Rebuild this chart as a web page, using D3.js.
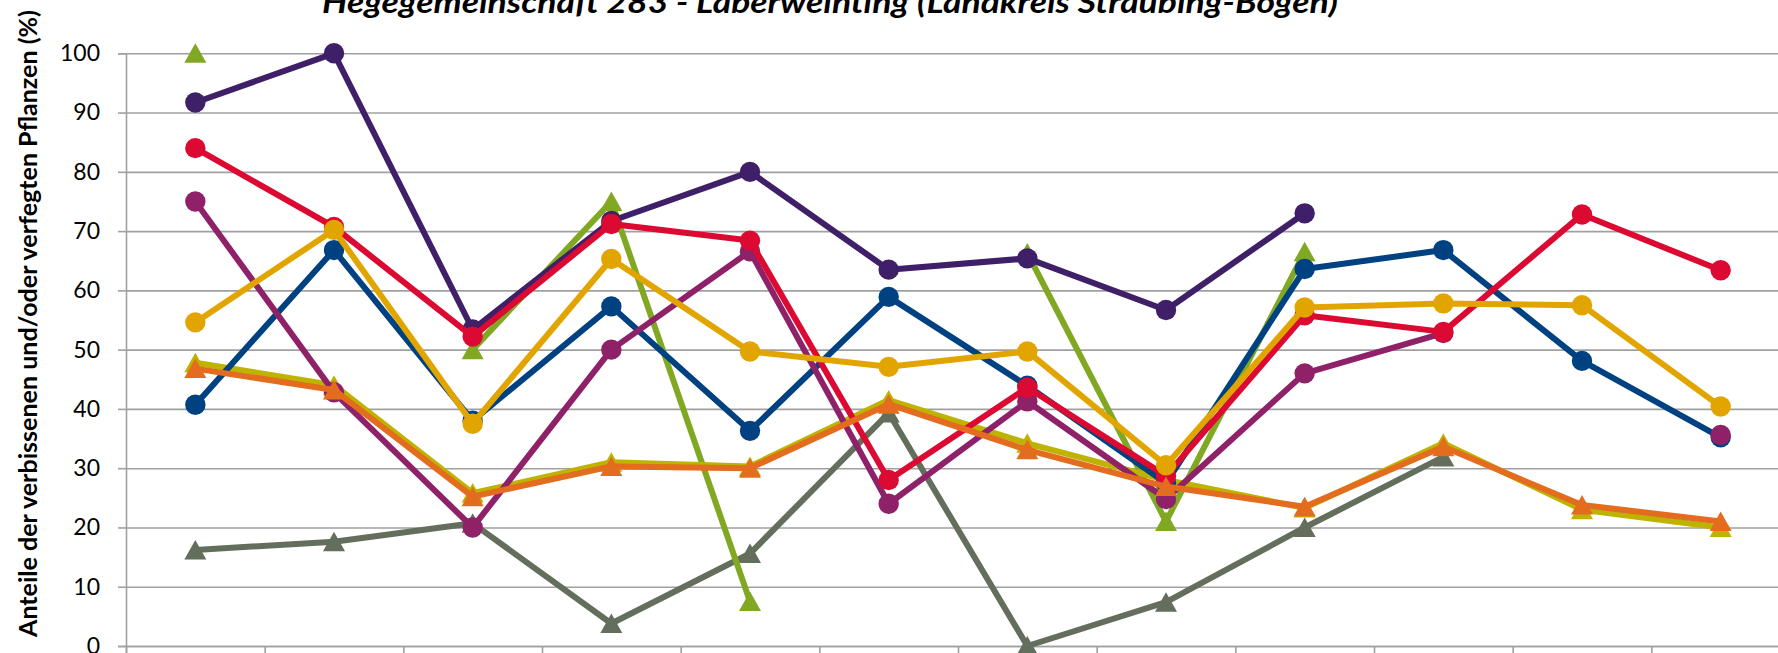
<!DOCTYPE html>
<html>
<head>
<meta charset="utf-8">
<script src="https://cdn.jsdelivr.net/npm/d3@7"></script>
<style>
  html, body { margin: 0; padding: 0; background: #fff; overflow: hidden; }
  svg { display: block; }
</style>
</head>
<body>
<svg id="chart" width="1778" height="653"></svg>
<script>
// ---- data ----
const categories = ["1991","1994","1997","2000","2003","2006","2009","2012","2015","2018","2021","2024"];
const yTicks = [0,10,20,30,40,50,60,70,80,90,100];
const titleText = "Hegegemeinschaft 283 - Laberweinting (Landkreis Straubing-Bogen)";
const yTitleText = "Anteile der verbissenen und/oder verfegten Pflanzen (%)";

const seriesGrey    = [16.2, 17.6, 20.7, 3.8, 15.6, 39.3, 0, 7.4, 20.0, 31.9, null, null];
const seriesGreen   = [100, null, 50, 75, 7.5, null, 66.3, 21, 66.5, null, null, null];
const seriesOlive   = [47.8, 44.0, 25.8, 31.0, 30.3, 41.5, 34.2, 28.0, 23.3, 34.2, 23.0, 20.0];
const seriesPurple  = [91.7, 100, 53.4, 71.7, 80.0, 63.5, 65.4, 56.7, 73.0, null, null, null];
const seriesBlue    = [40.7, 66.8, 38.0, 57.3, 36.3, 58.9, 43.9, 27.5, 63.6, 66.8, 48.1, 35.2];
const seriesMagenta = [75.0, 42.8, 20.0, 50.0, 66.6, 24.0, 41.3, 24.8, 46.0, 52.8, null, 35.6];
const seriesRed     = [84.0, 70.7, 52.2, 71.2, 68.4, 28.0, 43.6, 28.7, 55.8, 53.0, 72.8, 63.4];
const seriesOrange  = [46.8, 43.2, 25.2, 30.3, 30.0, 40.8, 33.1, 26.9, 23.5, 33.6, 23.8, 21.0];
const seriesGold    = [54.6, 70.2, 37.5, 65.3, 49.7, 47.1, 49.7, 30.5, 57.1, 57.8, 57.5, 40.4];

(function () {
// ---- styles (drawing order bottom -> top) ----
const series = [
  { values: seriesGrey,    color: "#646E5C", marker: "triangle" },
  { values: seriesGreen,   color: "#80A823", marker: "triangle" },
  { values: seriesOlive,   color: "#BDB300", marker: "triangle" },
  { values: seriesPurple,  color: "#3E1F68", marker: "circle" },
  { values: seriesBlue,    color: "#004182", marker: "circle" },
  { values: seriesMagenta, color: "#8E2168", marker: "circle" },
  { values: seriesRed,     color: "#DC0A32", marker: "circle" },
  { values: seriesOrange,  color: "#E36C1E", marker: "triangle" },
  { values: seriesGold,    color: "#E2A500", marker: "circle" }
];

const svg = d3.select("#chart");
const W = 1778, H = 653;
const pLeft = 126, pRight = 1790, pTop = 53.3, pBottom = 646;
const font = "Lato, 'Open Sans', 'Liberation Sans', sans-serif";

svg.append("rect").attr("width", W).attr("height", H).attr("fill", "#fff");

const x = d3.scalePoint().domain(categories).range([pLeft, pRight]).padding(0.5);
const xEdge = d3.scaleLinear().domain([0, categories.length]).range([pLeft, pRight]);
const y = d3.scaleLinear().domain([0, 100]).range([pBottom, pTop]);

// gridlines
svg.append("g")
  .attr("transform", `translate(${pLeft},0)`)
  .call(d3.axisLeft(y).tickValues(yTicks).tickSize(-(W - pLeft)).tickFormat(""))
  .call(g => g.select(".domain").remove())
  .call(g => g.selectAll(".tick line").attr("stroke", "#A0A0A0").attr("stroke-width", 1.6));

// y axis with labels
svg.append("g")
  .attr("transform", `translate(${pLeft},0)`)
  .call(d3.axisLeft(y).tickValues(yTicks).tickSize(8).tickPadding(18))
  .call(g => g.select(".domain").attr("stroke", "#A0A0A0").attr("stroke-width", 1.6))
  .call(g => g.selectAll(".tick line").attr("stroke", "#A0A0A0").attr("stroke-width", 1.6))
  .call(g => g.selectAll(".tick text")
    .attr("font-family", font).attr("font-size", 23).attr("fill", "#000"));

// x axis ticks (labels lie outside the visible picture)
svg.append("g")
  .attr("transform", `translate(0,${pBottom})`)
  .call(d3.axisBottom(xEdge).tickValues(d3.range(0, categories.length + 1)).tickSize(8).tickFormat(""))
  .call(g => g.select(".domain").attr("stroke", "#A0A0A0").attr("stroke-width", 1.6))
  .call(g => g.selectAll(".tick line").attr("stroke", "#A0A0A0").attr("stroke-width", 1.6));

// lines and markers
const line = d3.line()
  .defined(d => d.v !== null)
  .x(d => x(d.c))
  .y(d => y(d.v));

const tri = "M0,-10L11,9.5L-11,9.5Z";

series.forEach(s => {
  const pts = categories.map((c, i) => ({ c, v: s.values[i] }));
  const g = svg.append("g");
  g.append("path")
    .datum(pts)
    .attr("d", line)
    .attr("fill", "none")
    .attr("stroke", s.color)
    .attr("stroke-width", 6)
    .attr("stroke-linejoin", "round");
  const valid = pts.filter(d => d.v !== null);
  if (s.marker === "circle") {
    g.selectAll("circle").data(valid).join("circle")
      .attr("cx", d => x(d.c)).attr("cy", d => y(d.v)).attr("r", 10.2)
      .attr("fill", s.color);
  } else {
    g.selectAll("path.m").data(valid).join("path")
      .attr("class", "m")
      .attr("d", tri)
      .attr("transform", d => `translate(${x(d.c)},${y(d.v)})`)
      .attr("fill", s.color);
  }
});

// y axis title (condensed to the measured length)
svg.append("text")
  .attr("transform", `translate(27,${(10 + 637) / 2}) rotate(-90)`)
  .attr("text-anchor", "middle")
  .attr("dominant-baseline", "central")
  .attr("font-family", font).attr("font-weight", "bold").attr("font-size", 25.5)
  .attr("textLength", 627).attr("lengthAdjust", "spacingAndGlyphs")
  .attr("fill", "#000")
  .text(yTitleText);

// title (top is cut off in the reference)
svg.append("text")
  .attr("x", 322).attr("y", 13)
  .attr("font-family", font).attr("font-weight", "bold").attr("font-style", "italic")
  .attr("font-size", 30)
  .attr("textLength", 1016).attr("lengthAdjust", "spacingAndGlyphs")
  .attr("fill", "#000")
  .text(titleText);
})();
</script>
</body>
</html>
